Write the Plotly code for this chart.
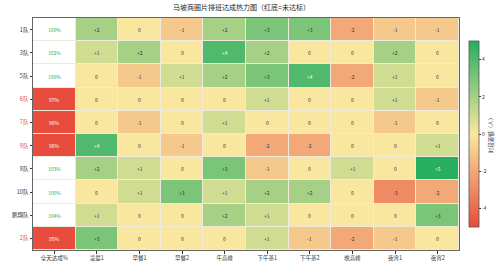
import plotly.graph_objects as go

teams = ["1队", "3队", "5队", "6队", "7队", "9队", "8队", "10队", "鹏翔队", "2队"]
first_col = "全天达成%"
slots = ["凌晨1", "早餐1", "早餐2", "午高峰", "下午茶1", "下午茶2", "晚高峰", "夜宵1", "夜宵2"]
rate = [100, 102, 100, 97, 96, 96, 103, 100, 104, 95]
diff = [
    [2, 0, -1, 2, 3, 3, -2, -1, -1],
    [1, 2, 0, 4, 2, 0, 0, 2, 0],
    [0, -1, 1, 2, 3, 4, -2, 1, 0],
    [0, 0, 0, 0, 1, 0, 0, 1, -1],
    [0, -1, 0, 1, 0, 0, 0, -1, 0],
    [4, 0, -1, 0, -2, -2, 0, 0, 1],
    [2, 1, 0, 3, -1, 0, 1, 0, 5],
    [0, 1, 3, 1, 2, 2, 0, -3, -2],
    [1, 0, 0, 2, 1, 0, 0, 0, 3],
    [3, 0, 0, 0, 1, -1, -2, -1, 0],
]
cbar_ticks = [-4, -2, 0, 2, 4]

RED = "#e74c3c"
GREEN = "#27ae60"
YELLOW = "#f9e79f"
FONT = "Noto Sans CJK SC"

fig = go.Figure()

# main heatmap
fig.add_trace(go.Heatmap(
    x=slots, y=teams, z=diff, zmin=-5, zmax=5,
    colorscale=[[0, RED], [0.5, YELLOW], [1, GREEN]],
    xgap=1, ygap=1,
    colorbar=dict(
        x=(469 - 24) / 435, xanchor="left", xpad=0, ypad=0,
        y=0.5, yanchor="middle", len=0.8, lenmode="fraction",
        thickness=10, thicknessmode="pixels",
        outlinecolor="#555", outlinewidth=0.8,
        tickvals=cbar_ticks, ticktext=[str(t) for t in cbar_ticks],
        ticks="outside", ticklen=2, tickwidth=0.6, tickcolor="#333",
        tickfont=dict(size=5, color="#333", family=FONT),
    ),
    hoverinfo="skip",
))

# first column: red if below 100%
fig.add_trace(go.Heatmap(
    x=[first_col] * len(teams), y=teams,
    z=[1 if r < 100 else 0 for r in rate], zmin=0, zmax=1,
    colorscale=[[0, "white"], [1, RED]], showscale=False,
    xgap=1, ygap=1, hoverinfo="skip",
))

ann = []
for i, t in enumerate(teams):
    ann.append(dict(x=first_col, y=t, text=f"{rate[i]}%", showarrow=False,
                    font=dict(size=5, family=FONT,
                              color="white" if rate[i] < 100 else GREEN)))
    for j, s in enumerate(slots):
        v = diff[i][j]
        txt = f"+{v}" if v > 0 else str(v)
        ann.append(dict(x=s, y=t, text=txt, showarrow=False,
                        font=dict(size=5, family=FONT,
                                  color="white" if abs(v) >= 4 else "#333")))

ann.append(dict(xref="paper", yref="paper", x=(492 - 24) / 435, y=0.5,
                text="时段差额（人）", textangle=-90, showarrow=False,
                xanchor="center", yanchor="middle",
                font=dict(size=5.5, family=FONT, color="#333")))

ytext = [f'<span style="color:{RED if r < 100 else "#333"}">{t}</span>'
         for t, r in zip(teams, rate)]

fig.update_layout(
    width=500, height=274,
    margin=dict(l=24, r=41, t=18, b=14),
    paper_bgcolor="white", plot_bgcolor="#efeadc",
    font=dict(family=FONT, color="#333"),
    title=dict(text="马坡商圈片排班达成热力图（红底=未达标）",
               x=241.5 / 500, xref="container", xanchor="center",
               y=1 - 7.5 / 274, yref="container", yanchor="middle",
               font=dict(size=7, family=FONT, color="#222")),
    xaxis=dict(type="category", categoryorder="array",
               categoryarray=[first_col] + slots,
               showline=True, mirror=True, linecolor="#666", linewidth=1,
               ticks="outside", ticklen=2.5, tickwidth=0.6, tickcolor="#333",
               tickfont=dict(size=5.5, family=FONT, color="#333"),
               showgrid=False, zeroline=False, fixedrange=True),
    yaxis=dict(type="category", categoryorder="array", categoryarray=teams,
               autorange="reversed",
               tickvals=teams, ticktext=ytext,
               showline=True, mirror=True, linecolor="#666", linewidth=1,
               ticks="outside", ticklen=2.5, tickwidth=0.6, tickcolor="#333",
               tickfont=dict(size=5.5, family=FONT, color="#333"),
               showgrid=False, zeroline=False, fixedrange=True),
    annotations=ann,
)

fig.write_html("out.html")
